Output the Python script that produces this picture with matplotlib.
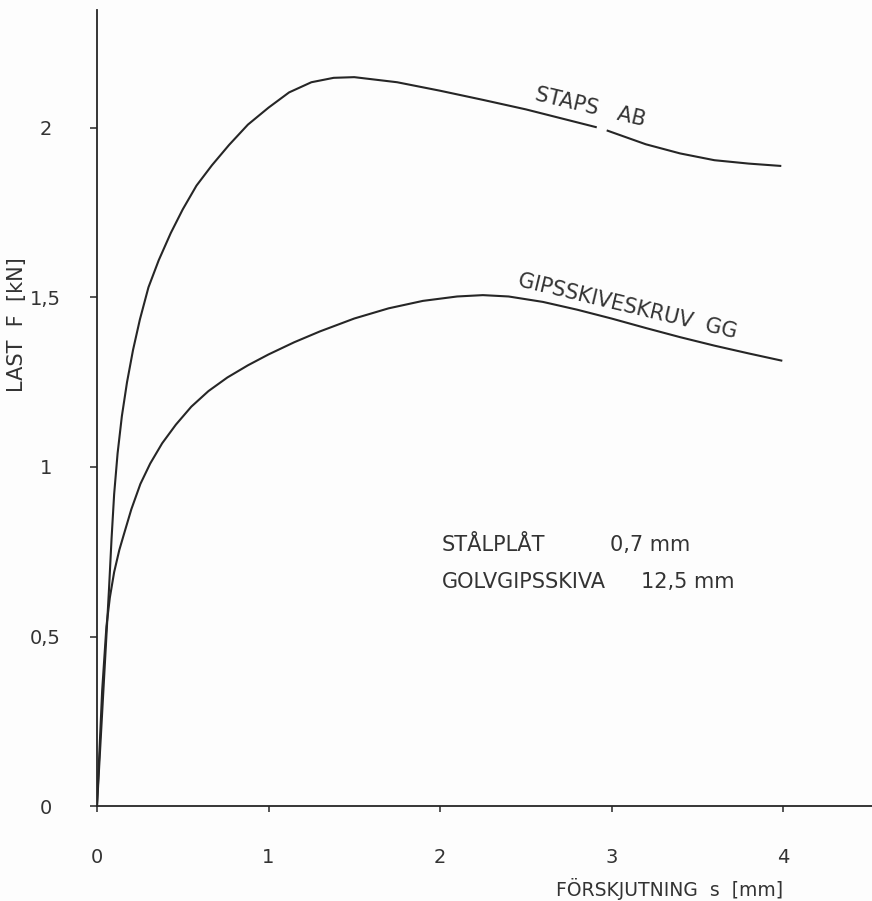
import numpy as np
import matplotlib.pyplot as plt

# displacement s [mm] vs load F [kN]
staps_s = [0, 0.035, 0.07, 0.085, 0.10, 0.12, 0.145, 0.175, 0.21, 0.25,
           0.30, 0.36, 0.43, 0.50, 0.58, 0.67, 0.77, 0.88, 1.00, 1.12,
           1.25, 1.38, 1.50, 1.75, 2.00, 2.25, 2.50, 2.75, 2.914, 2.972,
           3.2, 3.4, 3.6, 3.8, 3.99]
staps_f = [0, 0.32, 0.64, 0.79, 0.92, 1.04, 1.15, 1.25, 1.345, 1.435,
           1.53, 1.61, 1.69, 1.76, 1.83, 1.89, 1.95, 2.01, 2.06, 2.105,
           2.135, 2.148, 2.15, 2.135, 2.11, 2.083, 2.055, 2.023, 2.002, 1.993,
           1.952, 1.925, 1.905, 1.895, 1.888]

gg_s = [0, 0.03, 0.055, 0.075, 0.10, 0.13, 0.156, 0.20, 0.253, 0.31,
        0.38, 0.46, 0.55, 0.65, 0.76, 0.88, 1.0, 1.15, 1.3, 1.5,
        1.7, 1.9, 2.1, 2.25, 2.4, 2.6, 2.8, 3.0, 3.2, 3.4,
        3.6, 3.8, 3.99]
gg_f = [0, 0.34, 0.53, 0.615, 0.69, 0.755, 0.80, 0.875, 0.95, 1.01,
        1.07, 1.125, 1.178, 1.224, 1.264, 1.30, 1.332, 1.368, 1.40, 1.438,
        1.468, 1.49, 1.503, 1.507, 1.503, 1.487, 1.464, 1.438, 1.41, 1.383,
        1.358, 1.335, 1.314]

x_ticks = [0, 1, 2, 3, 4]
x_ticklabels = ['0', '1', '2', '3', '4']
y_ticks = [0, 0.5, 1, 1.5, 2]
y_ticklabels = ['0', '0,5', '1', '1,5', '2']

ink = '#262626'
txt = '#333333'
plt.rcParams['font.family'] = ['DejaVu Sans']

fig = plt.figure(figsize=(8.72, 9.01), dpi=100, facecolor='#fdfdfd')
ax = fig.add_axes([97 / 872, 95 / 901, 1 - 97 / 872, (806 - 10) / 901])
ax.set_facecolor('#fdfdfd')

# STAPS AB curve is broken where the label sits
s_arr = np.array(staps_s)
f_arr = np.array(staps_f, dtype=float)
left = s_arr <= 2.914
right = s_arr >= 2.972
ax.plot(s_arr[left], f_arr[left], color=ink, lw=1.5, solid_capstyle='butt')
ax.plot(s_arr[right], f_arr[right], color=ink, lw=1.5, solid_capstyle='butt')
ax.plot(gg_s, gg_f, color=ink, lw=1.5)

ax.set_xlim(0, (872 - 97) / 171.5)
ax.set_ylim(0, (806 - 10) / 339)

for sp in ['top', 'right']:
    ax.spines[sp].set_visible(False)
for sp in ['left', 'bottom']:
    ax.spines[sp].set_color(ink)
    ax.spines[sp].set_linewidth(1.3)

ax.set_xticks(x_ticks)
ax.set_xticklabels(x_ticklabels)
ax.set_yticks(y_ticks)
ax.set_yticklabels(y_ticklabels, ha='center')
ax.tick_params(axis='x', direction='out', length=4, width=1.1, color=ink,
               labelsize=14, labelcolor=txt, pad=26)
ax.tick_params(axis='y', direction='out', length=5, width=1.1, color=ink,
               labelsize=14, labelcolor=txt, pad=32)

ax.set_xlabel('FÖRSKJUTNING  s  [mm]', fontsize=13.5, color=txt, ha='right')
ax.xaxis.set_label_coords(4 / ax.get_xlim()[1], -0.09)
ax.set_ylabel('LAST  F  [kN]', fontsize=15, color=txt)
ax.yaxis.set_label_coords(-0.09, 0.605)

ax.text(2.875, 2.06, 'STAPS   AB', rotation=-13.4, rotation_mode='anchor',
        ha='center', va='center', fontsize=15, color=txt)
ax.text(3.093, 1.475, 'GIPSSKIVESKRUV  GG', rotation=-13.5,
        rotation_mode='anchor', ha='center', va='center', fontsize=15,
        color=txt)

ax.text(2.01, 0.77, 'STÅLPLÅT', fontsize=15, color=txt, va='center')
ax.text(2.99, 0.77, '0,7 mm', fontsize=15, color=txt, va='center')
ax.text(2.01, 0.66, 'GOLVGIPSSKIVA', fontsize=15, color=txt, va='center')
ax.text(3.17, 0.66, '12,5 mm', fontsize=15, color=txt, va='center')

fig.savefig('out.png', dpi=100, facecolor=fig.get_facecolor())
plt.close(fig)
